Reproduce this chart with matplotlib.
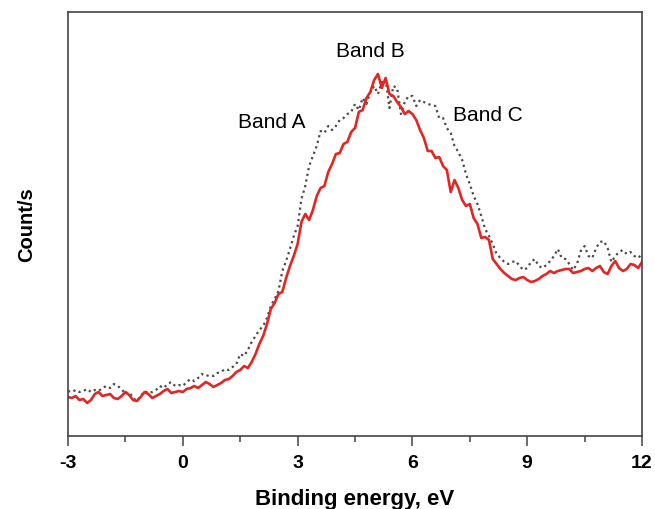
import numpy as np
import matplotlib
matplotlib.use("Agg")
import matplotlib.pyplot as plt

plt.rcParams['font.family'] = ['Liberation Sans', 'DejaVu Sans']

# binding energy grid, eV
energy = np.round(np.arange(-3.0, 12.01, 0.1), 2)

# sample 1 (red, solid) - counts (arb. units)
red_counts = [
    39, 38, 40, 36, 37, 33, 36, 42, 44, 40,
    41, 42, 38, 37, 40, 44, 41, 36, 35, 39,
    44, 42, 38, 40, 42, 45, 47, 43, 44, 45,
    44, 47, 48, 50, 48, 51, 54, 52, 49, 51,
    53, 56, 57, 60, 64, 66, 70, 68, 74, 82,
    92, 100, 112, 127, 133, 142, 144, 158, 170, 180,
    192, 214, 222, 216, 226, 240, 248, 250, 264, 272,
    282, 283, 292, 294, 304, 308, 324, 326, 338, 344,
    356, 362, 348, 358, 342, 340, 334, 329, 322, 325,
    322, 316, 306, 298, 285, 285, 278, 279, 270, 266,
    244, 256, 248, 236, 230, 232, 218, 212, 198, 199,
    196, 177, 172, 167, 163, 160, 157, 156, 158, 159,
    156, 154, 155, 157, 160, 162, 165, 163, 165, 166,
    167, 167, 163, 164, 165, 167, 168, 165, 168, 170,
    164, 162, 170, 175, 168, 165, 167, 172, 171, 168, 174,
]

# sample 2 (grey, dotted)
grey_counts = [
    45, 44, 46, 44, 45, 47, 44, 46, 45, 48,
    50, 48, 52, 50, 47, 42, 44, 38, 35, 40,
    45, 43, 44, 46, 50, 48, 52, 54, 50, 51,
    50, 54, 57, 55, 58, 62, 60, 61, 60, 63,
    64, 67, 66, 69, 72, 82, 80, 86, 94, 100,
    106, 110, 118, 130, 137, 145, 165, 175, 187, 200,
    210, 237, 250, 270, 280, 290, 305, 303, 310, 306,
    310, 316, 318, 322, 324, 332, 326, 338, 332, 344,
    350, 342, 354, 357, 328, 350, 348, 322, 334, 340,
    340, 330, 336, 334, 332, 331, 330, 318, 318, 308,
    303, 290, 284, 276, 262, 252, 240, 232, 220, 207,
    200, 192, 182, 178, 174, 172, 174, 175, 170, 166,
    168, 174, 177, 170, 168, 171, 175, 180, 187, 178,
    177, 172, 166, 172, 185, 190, 180, 178, 188, 194,
    195, 188, 174, 180, 184, 186, 182, 184, 180, 178, 182,
]

band_names = ["Band A", "Band B", "Band C"]
band_pos = [(2.33, 315), (4.89, 386), (7.97, 322)]

x_ticks = [-3, 0, 3, 6, 9, 12]

fig = plt.figure(figsize=(6.55, 5.10), dpi=100)
ax = fig.add_axes([0.1038, 0.1431, 0.8764, 0.8314])

ax.plot(energy, grey_counts, color='#4a4a4a', linestyle=(0, (1, 1.6)), linewidth=1.6)
ax.plot(energy, red_counts, color='#e32622', linestyle='solid', linewidth=1.9)

for name, (bx, by) in zip(band_names, band_pos):
    ax.text(bx, by, name, ha='center', va='center', fontsize=15)

ax.set_xlim(-3, 12)
ax.set_ylim(0, 424)
ax.set_xticks(x_ticks)
ax.set_xticklabels([str(t) for t in x_ticks], fontweight='bold', fontsize=14)
ax.set_xticks(np.arange(-1.5, 12, 3), minor=True)
ax.tick_params(axis='x', which='major', direction='out', length=7, width=1.1,
               color='#444444', pad=6)
ax.tick_params(axis='x', which='minor', direction='out', length=4, width=1.1,
               color='#444444')
ax.set_yticks([])

for sp in ax.spines.values():
    sp.set_color('#444444')
    sp.set_linewidth(1.2)

ax.set_xlabel('Binding energy, eV', fontweight='bold', fontsize=16, labelpad=12)
ax.set_ylabel('Count/s', fontweight='bold', fontsize=14.5)
ax.yaxis.set_label_coords(-0.056, 0.5)

fig.savefig('out.png', dpi=100)
